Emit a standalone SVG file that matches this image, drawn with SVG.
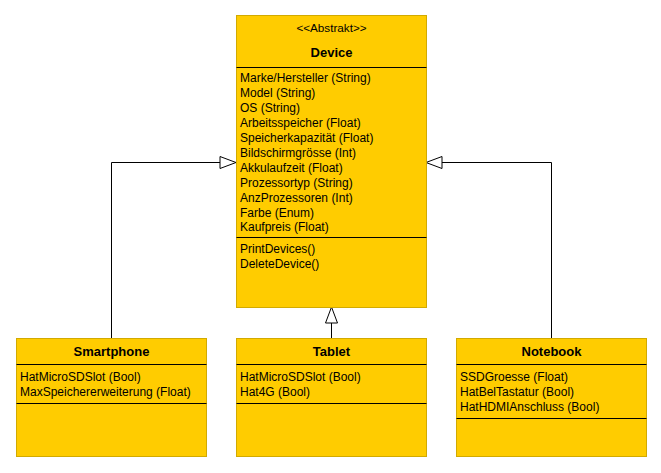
<svg xmlns="http://www.w3.org/2000/svg" width="661" height="473" viewBox="0 0 661 473">
<style>
.box{fill:#FFCC00;stroke:#D2AA00;stroke-width:1}
.div{stroke:#000;stroke-width:1}
.t{font-family:"Liberation Sans",Arial,sans-serif;font-size:12px;fill:#000}
.b{font-family:"Liberation Sans",Arial,sans-serif;font-size:13px;font-weight:bold;fill:#000;text-anchor:middle}
.s{font-family:"Liberation Sans",Arial,sans-serif;font-size:11.7px;fill:#000;text-anchor:middle}
.c{fill:none;stroke:#000;stroke-width:1}
.h{fill:#fff;stroke:#000;stroke-width:1}
</style>
<rect width="661" height="473" fill="#fff"/>
<g id="connectors">
<path class="c" d="M111.5 338 V162.5 H220"/>
<polygon class="h" points="236,162.5 220,156.5 220,168.5"/>
<path class="c" d="M551.5 338 V162.5 H442"/>
<polygon class="h" points="426,162.5 442,156.5 442,168.5"/>
<path class="c" d="M331.5 338 V323"/>
<polygon class="h" points="331.5,307 325.5,323 337.5,323"/>
</g>
<g id="device">
<rect class="box" x="236.5" y="15.5" width="190" height="292"/>
<text class="s" x="331.5" y="32">&lt;&lt;Abstrakt&gt;&gt;</text>
<text class="b" x="331.5" y="57">Device</text>
<line class="div" x1="236.5" y1="67.5" x2="426.5" y2="67.5"/>
<text class="t" x="240" y="82">Marke/Hersteller (String)</text>
<text class="t" x="240" y="97">Model (String)</text>
<text class="t" x="240" y="112">OS (String)</text>
<text class="t" x="240" y="127">Arbeitsspeicher (Float)</text>
<text class="t" x="240" y="142">Speicherkapazität (Float)</text>
<text class="t" x="240" y="157">Bildschirmgrösse (Int)</text>
<text class="t" x="240" y="172">Akkulaufzeit (Float)</text>
<text class="t" x="240" y="187">Prozessortyp (String)</text>
<text class="t" x="240" y="202">AnzProzessoren (Int)</text>
<text class="t" x="240" y="217">Farbe (Enum)</text>
<text class="t" x="240" y="231">Kaufpreis (Float)</text>
<line class="div" x1="236.5" y1="237.5" x2="426.5" y2="237.5"/>
<text class="t" x="240" y="253">PrintDevices()</text>
<text class="t" x="240" y="268">DeleteDevice()</text>
</g>
<g id="smartphone">
<rect class="box" x="16.5" y="338.5" width="190" height="118"/>
<text class="b" x="111.5" y="356">Smartphone</text>
<line class="div" x1="16.5" y1="364.5" x2="206.5" y2="364.5"/>
<text class="t" x="20" y="381">HatMicroSDSlot (Bool)</text>
<text class="t" x="20" y="396">MaxSpeichererweiterung (Float)</text>
<line class="div" x1="16.5" y1="403.5" x2="206.5" y2="403.5"/>
</g>
<g id="tablet">
<rect class="box" x="236.5" y="338.5" width="190" height="118"/>
<text class="b" x="331.5" y="356">Tablet</text>
<line class="div" x1="236.5" y1="364.5" x2="426.5" y2="364.5"/>
<text class="t" x="240" y="381">HatMicroSDSlot (Bool)</text>
<text class="t" x="240" y="396">Hat4G (Bool)</text>
<line class="div" x1="236.5" y1="403.5" x2="426.5" y2="403.5"/>
</g>
<g id="notebook">
<rect class="box" x="456.5" y="338.5" width="190" height="118"/>
<text class="b" x="551.5" y="356">Notebook</text>
<line class="div" x1="456.5" y1="364.5" x2="646.5" y2="364.5"/>
<text class="t" x="460" y="381">SSDGroesse (Float)</text>
<text class="t" x="460" y="396">HatBelTastatur (Bool)</text>
<text class="t" x="460" y="411">HatHDMIAnschluss (Bool)</text>
<line class="div" x1="456.5" y1="418.5" x2="646.5" y2="418.5"/>
</g>
</svg>
